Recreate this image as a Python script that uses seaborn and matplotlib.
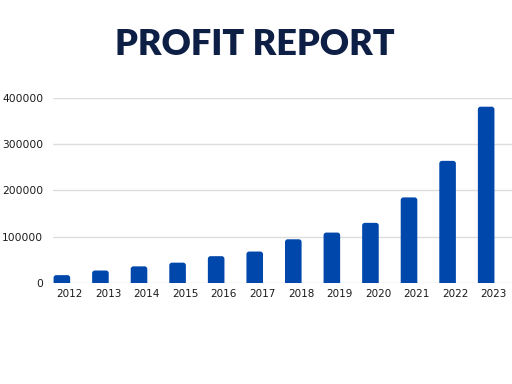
import matplotlib
matplotlib.use("Agg")
import matplotlib.pyplot as plt
from matplotlib.patches import FancyBboxPatch
import seaborn as sns
import pandas as pd
import numpy as np

# data
years = ["2012", "2013", "2014", "2015", "2016", "2017",
         "2018", "2019", "2020", "2021", "2022", "2023"]
profit = [17000, 27000, 36000, 44000, 58000, 68000,
          94500, 109000, 130000, 185000, 264000, 381000]
y_ticks = [0, 100000, 200000, 300000, 400000]

df = pd.DataFrame({"year": years, "profit": profit})

sns.set_theme(style="white")
plt.rcParams["font.family"] = ["DejaVu Sans"]

fig = plt.figure(figsize=(5.12, 3.84), dpi=100)
ax = fig.add_axes([0.1035, 0.263, 0.8965, 0.482])

sns.barplot(data=df, x="year", y="profit", color="#0047AB",
            saturation=1, width=0.43, ax=ax, zorder=3)

ax.set_ylim(0, 400000)
ax.set_xlim(-0.23, 11.67)

# round the bar tops (a few pixels), bottoms are hidden below zero
r = 0.07
aspect = 2169 * 38.5
for p in list(ax.patches):
    x, w, h = p.get_x(), p.get_width(), p.get_height()
    fb = FancyBboxPatch((x, -r * aspect), w, h + r * aspect,
                        boxstyle=f"round,pad=0,rounding_size={r}",
                        mutation_aspect=aspect, facecolor="#0047AB",
                        edgecolor="none", zorder=3)
    p.remove()
    ax.add_patch(fb)

ax.set_yticks(y_ticks)
ax.set_yticklabels([str(v) for v in y_ticks], fontsize=7.7, color="#1a1a1a")
ax.set_xticks(np.arange(len(years)) + 0.2)
ax.set_xticklabels(years, fontsize=7.5, color="#1a1a1a")
ax.tick_params(axis="x", length=0, pad=4)
ax.tick_params(axis="y", length=0, pad=7)
ax.set_xlabel("")
ax.set_ylabel("")
ax.grid(axis="y", color="#dddddd", linewidth=1, zorder=0)
for s in ax.spines.values():
    s.set_visible(False)

fig.text(0.497, 0.885, "PROFIT REPORT", ha="center", va="center",
         fontsize=26, fontweight="heavy", color="#0d1f45",
         family=["Lato", "DejaVu Sans"])

fig.savefig("out.png", dpi=100)
